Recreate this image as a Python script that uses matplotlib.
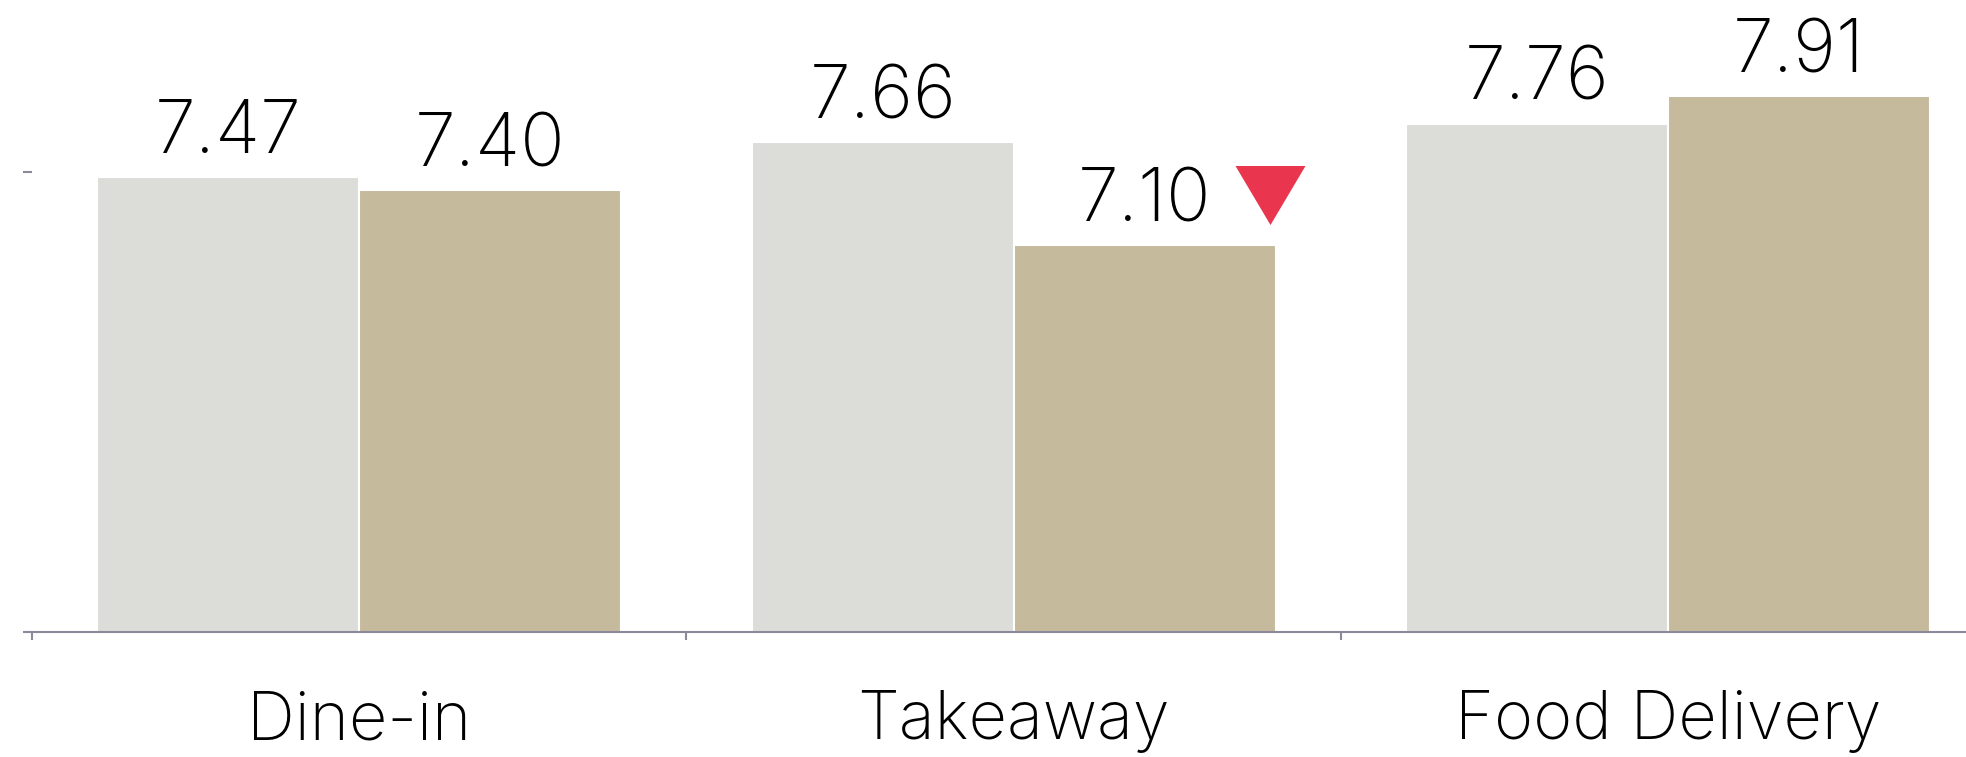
import numpy as np
import matplotlib.pyplot as plt
import matplotlib.transforms as mtransforms

# data
categories = ['Dine-in', 'Takeaway', 'Food Delivery']
prev_scores = [7.47, 7.66, 7.76]
curr_scores = [7.40, 7.10, 7.91]
drop_flags = [False, True, False]

plt.rcParams['font.family'] = ['Inter', 'DejaVu Sans']
plt.rcParams['font.weight'] = 'light'

GREY = '#DCDDD8'
TAN = '#C6BA9C'
AXC = '#8A8A9A'
RED = '#E9364E'

fig = plt.figure(figsize=(19.66, 7.57), dpi=100)
ax = fig.add_axes([32/1966, 125/757, 1 - 32/1966, 632/757])

x = np.arange(len(categories))
w = 0.4
ax.bar(x - w/2, prev_scores, w, color=GREY, edgecolor='white', linewidth=1.5)
ax.bar(x + w/2, curr_scores, w, color=TAN, edgecolor='white', linewidth=1.5)

for xi, v in zip(x - w/2, prev_scores):
    ax.annotate(f'{v:.2f}', xy=(xi, v), xytext=(0, 17), textcoords='offset points',
                ha='center', va='baseline', fontsize=53)
for xi, v in zip(x + w/2, curr_scores):
    ax.annotate(f'{v:.2f}', xy=(xi, v), xytext=(0, 17), textcoords='offset points',
                ha='center', va='baseline', fontsize=53)

# down marker for drops
tri = [(-1, 0.843), (1, 0.843), (0, -0.843)]
trans = mtransforms.offset_copy(ax.transData, fig=fig, x=-4, y=36.4, units='points')
for xi, v, d in zip(x, curr_scores, drop_flags):
    if d:
        ax.plot(xi + w, v, marker=tri, markersize=50.4, color=RED,
                markeredgewidth=0, transform=trans, clip_on=False)

ax.set_xlim(-0.5, -0.5 + (1966 - 32) / 654.5)
ax.set_ylim(5, 5 + 632 / 184.2)

for s in ['top', 'right', 'left']:
    ax.spines[s].set_visible(False)
ax.spines['bottom'].set_color(AXC)
ax.spines['bottom'].set_linewidth(1.5)

ax.set_yticks([5, 7.5])
ax.tick_params(axis='y', length=6.5, width=1.5, color=AXC, labelleft=False)

ax.set_xticks([-0.5, 0.5, 1.5])
ax.tick_params(axis='x', which='major', length=6, width=1.5, color=AXC, labelbottom=False)
ax.set_xticks(x, minor=True)
ax.set_xticklabels(categories, minor=True)
ax.tick_params(axis='x', which='minor', length=0, pad=42, labelsize=48)

fig.savefig('out.png', dpi=100)
